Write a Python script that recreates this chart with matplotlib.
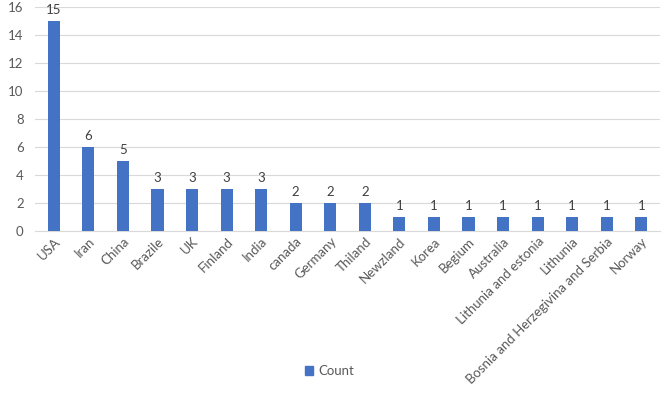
import matplotlib
matplotlib.use("Agg")
import matplotlib.pyplot as plt
from matplotlib.patches import Patch

categories = ["USA", "Iran", "China", "Brazile", "UK", "Finland", "India", "canada",
              "Germany", "Thiland", "Newzland", "Korea", "Begium", "Australia",
              "Lithunia and estonia", "Lithunia", "Bosnia and Herzegivina and Serbia", "Norway"]
counts = [15, 6, 5, 3, 3, 3, 3, 2, 2, 2, 1, 1, 1, 1, 1, 1, 1, 1]
yticks = [0, 2, 4, 6, 8, 10, 12, 14, 16]

plt.rcParams['font.family'] = ['Lato', 'DejaVu Sans']
txt = '#595959'
bar_color = '#4472C4'
fs = 9.5

fig = plt.figure(figsize=(6.69, 3.93), dpi=100)
ax = fig.add_axes([0.052, 0.412, 0.935, 0.57])
x = list(range(len(categories)))
ax.bar(x, counts, width=0.35, color=bar_color, zorder=3)
for xi, v in zip(x, counts):
    ax.text(xi, v + 0.35, str(v), ha='center', va='bottom', fontsize=fs, color='#404040')

ax.set_xlim(-0.55, len(categories) - 0.45)
ax.set_ylim(0, 16)
ax.set_yticks(yticks)
ax.set_yticklabels([str(t) for t in yticks], fontsize=fs, color=txt)
ax.set_xticks(x)
ax.set_xticklabels(categories, rotation=45, ha='right', rotation_mode='anchor', fontsize=fs, color=txt)
ax.tick_params(axis='x', length=0, pad=3)
ax.tick_params(axis='y', length=0, pad=8)
ax.grid(axis='y', color='#d9d9d9', linewidth=0.8, zorder=0)
for s in ['top', 'right', 'left']:
    ax.spines[s].set_visible(False)
ax.spines['bottom'].set_color('#d9d9d9')

fig.legend(handles=[Patch(color=bar_color, label='Count')], loc='center',
           bbox_to_anchor=(0.493, 0.056), frameon=False, fontsize=fs,
           handlelength=0.6, handleheight=0.6, handletextpad=0.4, labelcolor=txt)

fig.savefig("out.png", dpi=100)
